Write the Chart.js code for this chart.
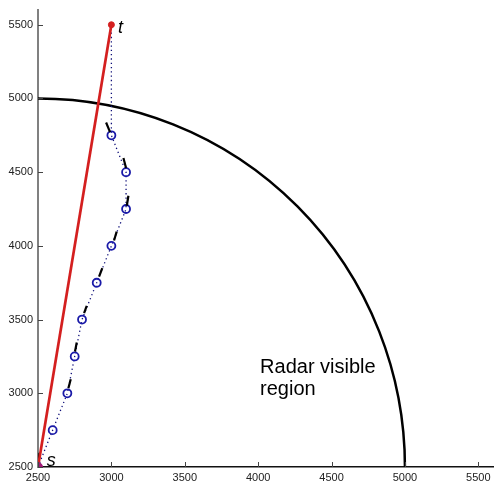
<!DOCTYPE html>
<html>
<head>
<meta charset="utf-8">
<script src="https://cdn.jsdelivr.net/npm/chart.js@4/dist/chart.umd.min.js"></script>
<style>
  html, body { margin: 0; padding: 0; background: #ffffff; }
  #wrap { width: 494px; height: 484px; position: relative; }
</style>
</head>
<body>
<div id="wrap"><canvas id="c"></canvas></div>
<script>
// ---- data ----
const tickValues = [2500, 3000, 3500, 4000, 4500, 5000, 5500];
const startPoint = { x: 2500, y: 2500 };   // s
const targetPoint = { x: 3000, y: 5500 };  // t
const pathX = [2600, 2700, 2750, 2800, 2900, 3000, 3100, 3100, 3000];
const pathY = [2750, 3000, 3250, 3500, 3750, 4000, 4250, 4500, 4750];
const headX0 = [2500, 2707, 2752, 2814, 2916, 3018, 3105, 3100, 2991];
const headY0 = [2510, 3034, 3283, 3543, 3792, 4036, 4272, 4528, 4772];
const headX1 = [2510, 2723, 2764, 2832, 2938, 3036, 3116, 3082, 2964];
const headY1 = [2595, 3095, 3344, 3593, 3849, 4097, 4340, 4596, 4837];
const radarCenter = { x: 2500, y: 2500 };
const radarRadius = 2500;
const regionLabel = ["Radar visible", "region"];
const regionLabelPos = [{ x: 4013, y: 3138 }, { x: 4013, y: 2989 }];
const pointLabels = ["s", "t"];
const pointLabelPos = [{ x: 2559, y: 2507 }, { x: 3045, y: 5446 }];

// ---- build datasets ----
const pathPoints = [startPoint].concat(pathX.map((x, i) => ({ x, y: pathY[i] })), [targetPoint]);
const pathRadius = pathPoints.map((p, i) => (i === 0 || i === pathPoints.length - 1) ? 0 : 4);

const datasets = [];
datasets.push({
  label: 'path', data: pathPoints, showLine: true,
  borderColor: '#10107a', borderWidth: 1.3, borderDash: [1.3, 3],
  pointRadius: pathRadius, pointBorderColor: '#1a1aa8', pointBackgroundColor: 'rgba(0,0,0,0)',
  pointBorderWidth: 1.8, order: 3
});
for (let i = 0; i < headX0.length; i++) {
  datasets.push({
    label: 'head' + i, data: [{ x: headX0[i], y: headY0[i] }, { x: headX1[i], y: headY1[i] }],
    showLine: true, borderColor: '#000000', borderWidth: 2.2, pointRadius: 0, order: 2
  });
}
datasets.push({
  label: 'direct', data: [startPoint, targetPoint], showLine: true,
  borderColor: '#d41f1f', borderWidth: 2.7, pointRadius: 0, order: 1
});
datasets.push({
  label: 's', data: [startPoint], pointRadius: 4.5, pointBackgroundColor: '#a01a78',
  pointBorderColor: '#a01a78', order: 0
});
datasets.push({
  label: 't', data: [targetPoint], pointRadius: 3, pointBackgroundColor: '#d41f1f',
  pointBorderColor: '#d41f1f', order: 0
});

// ---- plugins ----
const arcPlugin = {
  id: 'radarArc',
  beforeDatasetsDraw(chart) {
    const { ctx, scales: { x, y }, chartArea } = chart;
    const cx = x.getPixelForValue(radarCenter.x), cy = y.getPixelForValue(radarCenter.y);
    const rx = x.getPixelForValue(radarCenter.x + radarRadius) - cx;
    const ry = cy - y.getPixelForValue(radarCenter.y + radarRadius);
    ctx.save();
    ctx.beginPath();
    ctx.rect(chartArea.left, chartArea.top, chartArea.right - chartArea.left, chartArea.bottom - chartArea.top);
    ctx.clip();
    ctx.beginPath();
    ctx.ellipse(cx, cy, rx, ry, 0, -Math.PI / 2, 0);
    ctx.strokeStyle = '#000000';
    ctx.lineWidth = 2.5;
    ctx.stroke();
    ctx.restore();
  },
  afterDatasetsDraw(chart) {
    const { ctx, scales: { x, y } } = chart;
    ctx.save();
    ctx.fillStyle = '#000000';
    ctx.textBaseline = 'alphabetic';
    ctx.textAlign = 'left';
    ctx.font = '20px "Liberation Sans", Arial, sans-serif';
    regionLabel.forEach((t, i) => {
      ctx.fillText(t, x.getPixelForValue(regionLabelPos[i].x), y.getPixelForValue(regionLabelPos[i].y));
    });
    ctx.font = 'italic 18px "Liberation Sans", Arial, sans-serif';
    pointLabels.forEach((t, i) => {
      ctx.fillText(t, x.getPixelForValue(pointLabelPos[i].x), y.getPixelForValue(pointLabelPos[i].y));
    });
    // inward tick marks
    ctx.lineWidth = 1;
    ctx.strokeStyle = '#444444';
    tickValues.forEach(v => {
      const px = Math.round(x.getPixelForValue(v)) + 0.5;
      ctx.beginPath(); ctx.moveTo(px, y.bottom); ctx.lineTo(px, y.bottom - 5); ctx.stroke();
      const py = Math.round(y.getPixelForValue(v)) + 0.5;
      ctx.beginPath(); ctx.moveTo(x.left, py); ctx.lineTo(x.left + 5, py); ctx.stroke();
    });
    ctx.restore();
  }
};

const tickFont = { family: '"Liberation Sans", Arial, sans-serif', size: 11 };
new Chart(document.getElementById('c'), {
  type: 'scatter',
  data: { datasets },
  plugins: [arcPlugin],
  options: {
    responsive: true, maintainAspectRatio: false, animation: false,
    layout: { autoPadding: false, padding: { top: 10, right: 1, left: 0, bottom: 0 } },
    plugins: { legend: { display: false }, tooltip: { enabled: false } },
    scales: {
      x: {
        type: 'linear', min: 2500, max: 5600,
        afterBuildTicks: s => { s.ticks = tickValues.map(v => ({ value: v })); },
        afterFit: s => { s.height = 17; s.paddingLeft = 0; s.paddingRight = 0; },
        grid: { display: false, drawTicks: false, tickLength: 0 },
        border: { display: true, color: '#111111', width: 1.5 },
        ticks: { font: tickFont, color: '#222222', padding: 4, maxRotation: 0, autoSkip: false, callback: v => String(v) }
      },
      y: {
        type: 'linear', min: 2500, max: 5600,
        afterBuildTicks: s => { s.ticks = tickValues.map(v => ({ value: v })); },
        afterFit: s => { s.width = 38; s.paddingTop = 0; s.paddingBottom = 0; },
        grid: { display: false, drawTicks: false, tickLength: 0 },
        border: { display: true, color: '#808080', width: 2 },
        ticks: { font: tickFont, color: '#222222', padding: 5, autoSkip: false, callback: v => String(v) }
      }
    }
  }
});
</script>
</body>
</html>
